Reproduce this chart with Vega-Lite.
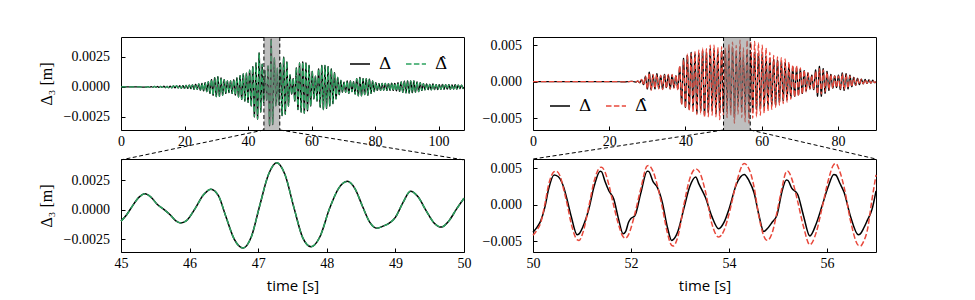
{
"$schema": "https://vega.github.io/schema/vega-lite/v6.json",
"background": "white",
"padding": {"left": 37, "top": 36, "right": 5, "bottom": 5},
"bounds": "flush",
"columns": 2,
"spacing": {"row": 29, "column": 69},
"resolve": {"scale": {"color": "independent", "strokeDash": "independent"}, "legend": {"color": "independent", "strokeDash": "independent"}},
"config": {
"view": {"stroke": "black", "strokeWidth": 1},
"axis": {"domain": false, "grid": false, "tickSize": -4, "tickColor": "black", "tickWidth": 1, "labelFont": "Liberation Serif", "labelFontSize": 14, "labelColor": "black", "labelFlush": false, "titleColor": "black", "titleFontWeight": "normal"},
"axisX": {"labelPadding": 8, "titleFont": "Open Sans", "titleFontSize": 15, "titlePadding": 8, "titleFontWeight": "normal"},
"axisY": {"labelPadding": 15.5, "titleFont": "Liberation Serif", "titleFontSize": 16, "titlePadding": 9, "titleFontWeight": "normal"},
"legend": {"labelFont": "DejaVu Serif", "labelFontSize": 17, "labelColor": "black", "symbolSize": 400, "symbolStrokeWidth": 1.5, "labelOffset": 8, "columnPadding": 11, "padding": 0, "offset": 16, "direction": "horizontal", "title": null}
},
"datasets": {
"L": [
{"t":0,"v":0},{"t":4,"v":0.00001},{"t":8,"v":-0.00002},{"t":8.5,"v":0.00002},{"t":9,"v":-0.00003},{"t":9.5,"v":0.00003},{"t":10,"v":-0.00003},{"t":10.5,"v":0.00004},{"t":11,"v":-0.00004},{"t":11.5,"v":0.00004},{"t":12,"v":-0.00005},{"t":12.5,"v":0.00005},{"t":13,"v":-0.00005},{"t":13.5,"v":0.00006},{"t":14,"v":-0.00006},{"t":14.5,"v":0.00005},{"t":15,"v":-0.00007},{"t":15.5,"v":0.00007},{"t":16,"v":-0.00008},{"t":16.5,"v":0.00009},{"t":17,"v":-0.00008},{"t":17.5,"v":0.0001},{"t":18,"v":-0.00009},{"t":18.5,"v":0.0001},{"t":19,"v":-0.00011},{"t":19.5,"v":0.00012},{"t":20,"v":-0.00012},{"t":20.5,"v":0.00014},{"t":21,"v":-0.00013},{"t":21.5,"v":0.00016},{"t":22,"v":-0.00015},{"t":22.5,"v":0.00018},{"t":23,"v":-0.0002},{"t":23.5,"v":0.00022},{"t":24,"v":-0.0002},{"t":24.5,"v":0.00025},{"t":25,"v":-0.00028},{"t":25.5,"v":0.0003},{"t":26,"v":-0.00033},{"t":26.5,"v":0.00036},{"t":27,"v":-0.0004},{"t":27.5,"v":0.00045},{"t":28,"v":-0.00055},{"t":28.5,"v":0.00062},{"t":29,"v":-0.0007},{"t":29.5,"v":0.00078},{"t":30,"v":-0.00082},{"t":30.5,"v":0.00086},{"t":31,"v":-0.0008},{"t":31.5,"v":0.00075},{"t":32,"v":-0.0007},{"t":32.5,"v":0.00062},{"t":33,"v":-0.00055},{"t":33.5,"v":0.0005},{"t":34,"v":-0.00048},{"t":34.5,"v":0.0005},{"t":35,"v":-0.00055},{"t":35.5,"v":0.0006},{"t":36,"v":-0.00068},{"t":36.5,"v":0.00075},{"t":37,"v":-0.00085},{"t":37.5,"v":0.00095},{"t":38,"v":-0.00105},{"t":38.5,"v":0.0011},{"t":39,"v":-0.0012},{"t":39.5,"v":0.00115},{"t":40,"v":-0.0013},{"t":40.5,"v":0.0014},{"t":41,"v":-0.0016},{"t":41.5,"v":0.0017},{"t":42,"v":-0.0025},{"t":42.5,"v":0.002},{"t":43,"v":-0.0027},{"t":43.5,"v":0.00285},{"t":44,"v":-0.0021},{"t":44.45,"v":0.0019},{"t":44.9,"v":-0.0013},
{"t":45,"v":-0.00097},{"t":45.08,"v":-0.00045},{"t":45.17,"v":0.00035},{"t":45.26,"v":0.00105},{"t":45.35,"v":0.00136},{"t":45.44,"v":0.00105},{"t":45.53,"v":0.00045},{"t":45.62,"v":0.00005},{"t":45.72,"v":-0.00045},{"t":45.8,"v":-0.00095},{"t":45.87,"v":-0.00112},{"t":45.95,"v":-0.00095},{"t":46.08,"v":0.0001},{"t":46.2,"v":0.00125},{"t":46.31,"v":0.00175},{"t":46.42,"v":0.0012},{"t":46.53,"v":-0.0006},{"t":46.65,"v":-0.0025},{"t":46.78,"v":-0.00325},{"t":46.9,"v":-0.0023},{"t":47.02,"v":0.0003},{"t":47.15,"v":0.003},{"t":47.27,"v":0.004},{"t":47.39,"v":0.003},{"t":47.52,"v":0.0002},{"t":47.65,"v":-0.0024},{"t":47.77,"v":-0.00315},{"t":47.9,"v":-0.0023},{"t":48.04,"v":0.0001},{"t":48.17,"v":0.0018},{"t":48.3,"v":0.00242},{"t":48.41,"v":0.0018},{"t":48.52,"v":0.0003},{"t":48.63,"v":-0.0011},{"t":48.73,"v":-0.00158},{"t":48.82,"v":-0.0014},{"t":48.91,"v":-0.00115},{"t":49,"v":-0.00065},{"t":49.11,"v":0.0006},{"t":49.22,"v":0.00158},{"t":49.33,"v":0.0011},{"t":49.45,"v":-0.0001},{"t":49.56,"v":-0.0011},{"t":49.67,"v":-0.00148},{"t":49.78,"v":-0.00095},{"t":49.89,"v":0.00005},{"t":50,"v":0.00098},
{"t":50.22,"v":0.002},{"t":50.72,"v":-0.0024},{"t":51.22,"v":0.0025},{"t":51.72,"v":-0.0023},{"t":52.22,"v":0.0021},{"t":52.72,"v":-0.0016},{"t":53.22,"v":0.001},{"t":53.72,"v":-0.0006},{"t":54.22,"v":0.0007},{"t":54.72,"v":-0.0012},{"t":55.22,"v":0.0016},{"t":55.72,"v":-0.0019},{"t":56.22,"v":0.002},{"t":56.72,"v":-0.0021},{"t":57.22,"v":0.0021},{"t":57.72,"v":-0.0022},{"t":58.22,"v":0.002},{"t":58.72,"v":-0.002},{"t":59.22,"v":0.0018},{"t":59.72,"v":-0.0016},{"t":60.22,"v":0.0013},{"t":60.72,"v":-0.001},{"t":61.22,"v":0.0009},{"t":61.72,"v":-0.0012},{"t":62.22,"v":0.0015},{"t":62.72,"v":-0.0017},{"t":63.22,"v":0.0018},{"t":63.72,"v":-0.0019},{"t":64.22,"v":0.0018},{"t":64.72,"v":-0.0018},{"t":65.22,"v":0.0017},{"t":65.72,"v":-0.0016},{"t":66.22,"v":0.0015},{"t":66.72,"v":-0.0014},{"t":67.22,"v":0.0012},{"t":67.72,"v":-0.001},{"t":68.22,"v":0.0008},{"t":68.72,"v":-0.00065},{"t":69.22,"v":0.00055},{"t":69.72,"v":-0.00045},{"t":70.22,"v":0.0004},{"t":70.72,"v":-0.00045},{"t":71.22,"v":0.0005},{"t":71.72,"v":-0.00055},{"t":72.22,"v":0.0005},{"t":72.72,"v":-0.0004},{"t":73.22,"v":0.00045},{"t":73.72,"v":-0.0006},{"t":74.22,"v":0.0007},{"t":74.72,"v":-0.00075},{"t":75.22,"v":0.0008},{"t":75.72,"v":-0.00075},{"t":76.22,"v":0.0007},{"t":76.72,"v":-0.00065},{"t":77.22,"v":0.0007},{"t":77.72,"v":-0.0007},{"t":78.22,"v":0.00065},{"t":78.72,"v":-0.00055},{"t":79.22,"v":0.0005},{"t":79.72,"v":-0.0004},{"t":80.22,"v":0.00035},{"t":80.72,"v":-0.0003},{"t":81.22,"v":0.00028},{"t":81.72,"v":-0.0003},{"t":82.22,"v":0.0003},{"t":82.72,"v":-0.00028},{"t":83.22,"v":0.0003},{"t":83.72,"v":-0.0003},{"t":84.22,"v":0.00028},{"t":84.72,"v":-0.0003},{"t":85.22,"v":0.00032},{"t":85.72,"v":-0.0003},{"t":86.22,"v":0.0003},{"t":86.72,"v":-0.00033},{"t":87.22,"v":0.00035},{"t":87.72,"v":-0.00038},{"t":88.22,"v":0.00042},{"t":88.72,"v":-0.00045},{"t":89.22,"v":0.00048},{"t":89.72,"v":-0.0005},{"t":90.22,"v":0.0005},{"t":90.72,"v":-0.00052},{"t":91.22,"v":0.0005},{"t":91.72,"v":-0.00048},{"t":92.22,"v":0.0005},{"t":92.72,"v":-0.00045},{"t":93.22,"v":0.00042},{"t":93.72,"v":-0.0004},{"t":94.22,"v":0.00035},{"t":94.72,"v":-0.0003},{"t":95.22,"v":0.00028},{"t":95.72,"v":-0.00025},{"t":96.22,"v":0.00025},{"t":96.72,"v":-0.00022},{"t":97.22,"v":0.00022},{"t":97.72,"v":-0.00025},{"t":98.22,"v":0.00025},{"t":98.72,"v":-0.00022},{"t":99.22,"v":0.0002},{"t":99.72,"v":-0.00022},{"t":100.22,"v":0.0002},{"t":100.72,"v":-0.0002},{"t":101.22,"v":0.00022},{"t":101.72,"v":-0.0002},{"t":102.22,"v":0.0002},{"t":102.72,"v":-0.00018},{"t":103.22,"v":0.0002},{"t":103.72,"v":-0.0002},{"t":104.22,"v":0.00018},{"t":104.72,"v":-0.00018},{"t":105.22,"v":0.0002},{"t":105.72,"v":-0.00018},{"t":106.22,"v":0.00016},{"t":106.72,"v":-0.00015},{"t":107.22,"v":0.00015},{"t":107.72,"v":-0.00014},{"t":108,"v":0}
],
"R": [
{"t":0,"a":0,"b":0},{"t":10,"a":0,"b":0},{"t":20,"a":0.00001,"b":0.00001},{"t":24,"a":-0.00002,"b":-0.00002},{"t":26,"a":0.00003,"b":0.00003},{"t":27,"a":-0.00005,"b":-0.00005},{"t":27.5,"a":0.00008,"b":0.0001},{"t":28,"a":-0.00015,"b":-0.00015},{"t":28.5,"a":0.00025,"b":0.0003},{"t":29,"a":-0.0004,"b":-0.00045},{"t":29.5,"a":0.0007,"b":0.0008},{"t":30,"a":-0.001,"b":-0.001},{"t":30.5,"a":0.0013,"b":0.0012},{"t":31,"a":-0.0011,"b":-0.0012},{"t":31.5,"a":0.0009,"b":0.001},{"t":32,"a":-0.001,"b":-0.0009},{"t":32.5,"a":0.0011,"b":0.001},{"t":33,"a":-0.0009,"b":-0.001},{"t":33.5,"a":0.0008,"b":0.0009},{"t":34,"a":-0.001,"b":-0.0011},{"t":34.5,"a":0.001,"b":0.0009},{"t":35,"a":-0.0008,"b":-0.0009},{"t":35.5,"a":0.0009,"b":0.001},{"t":36,"a":-0.001,"b":-0.001},{"t":36.5,"a":0.0009,"b":0.001},{"t":37,"a":-0.0008,"b":-0.0009},{"t":37.5,"a":0.0008,"b":0.0009},{"t":38,"a":-0.001,"b":-0.0012},{"t":38.5,"a":0.002,"b":0.0022},{"t":39,"a":-0.003,"b":-0.0032},{"t":39.5,"a":0.0032,"b":0.003},{"t":40,"a":-0.0035,"b":-0.0036},{"t":40.5,"a":0.0036,"b":0.0038},{"t":41,"a":-0.0038,"b":-0.004},{"t":41.5,"a":0.004,"b":0.0039},{"t":42,"a":-0.0036,"b":-0.0042},{"t":42.5,"a":0.0038,"b":0.0041},{"t":43,"a":-0.0043,"b":-0.0045},{"t":43.5,"a":0.0039,"b":0.0043},{"t":44,"a":-0.004,"b":-0.0044},{"t":44.5,"a":0.0042,"b":0.0046},{"t":45,"a":-0.0046,"b":-0.0049},{"t":45.5,"a":0.004,"b":0.0045},{"t":46,"a":-0.0042,"b":-0.0048},{"t":46.5,"a":0.0045,"b":0.005},{"t":47,"a":-0.004,"b":-0.0046},{"t":47.5,"a":0.0043,"b":0.005},{"t":48,"a":-0.0044,"b":-0.0048},{"t":48.5,"a":0.0041,"b":0.0047},{"t":49,"a":-0.0043,"b":-0.0052},{"t":49.5,"a":0.0042,"b":0.0048},{"t":49.93,"a":-0.0039,"b":-0.0046},
{"t":50,"a":-0.00377,"b":-0.0042},{"t":50.08,"a":-0.0031,"b":-0.0035},{"t":50.16,"a":-0.00218,"b":-0.0024},{"t":50.24,"a":-0.0004,"b":0},{"t":50.32,"a":0.0022,"b":0.0028},{"t":50.43,"a":0.00409,"b":0.00455},{"t":50.47,"a":0.00405,"b":0.00463},{"t":50.55,"a":0.0036,"b":0.004},{"t":50.63,"a":0.00236,"b":0.002},{"t":50.7,"a":0.0006,"b":0},{"t":50.78,"a":-0.0016,"b":-0.0026},{"t":50.9,"a":-0.00413,"b":-0.0048},{"t":50.94,"a":-0.004,"b":-0.0049},{"t":51.02,"a":-0.003,"b":-0.0038},{"t":51.14,"a":-0.00059,"b":-0.0002},{"t":51.25,"a":0.0026,"b":0.0033},{"t":51.37,"a":0.00463,"b":0.00515},{"t":51.4,"a":0.00455,"b":0.00518},{"t":51.47,"a":0.0032,"b":0.0045},{"t":51.55,"a":0.0019,"b":0.0027},{"t":51.65,"a":0.00077,"b":-0.0002},{"t":51.74,"a":-0.0018,"b":-0.0026},{"t":51.84,"a":-0.004,"b":-0.0044},{"t":51.89,"a":-0.0037,"b":-0.0046},{"t":51.95,"a":-0.0024,"b":-0.0041},{"t":51.99,"a":-0.00195,"b":-0.0034},{"t":52.08,"a":-0.0015,"b":-0.0012},{"t":52.2,"a":0.0016,"b":0.0022},{"t":52.33,"a":0.00463,"b":0.00535},{"t":52.36,"a":0.0046,"b":0.0054},{"t":52.45,"a":0.0032,"b":0.0046},{"t":52.54,"a":0.00236,"b":0.0026},{"t":52.64,"a":0.0003,"b":-0.0004},{"t":52.74,"a":-0.003,"b":-0.0038},{"t":52.83,"a":-0.0049,"b":-0.0056},{"t":52.86,"a":-0.0048,"b":-0.00568},{"t":52.96,"a":-0.0036,"b":-0.0043},{"t":53.08,"a":-0.0005,"b":0},{"t":53.2,"a":0.0025,"b":0.0036},{"t":53.32,"a":0.00381,"b":0.00495},{"t":53.39,"a":0.0028,"b":0.0046},{"t":53.52,"a":0.001,"b":0.0018},{"t":53.65,"a":-0.0016,"b":-0.0026},{"t":53.79,"a":-0.0033,"b":-0.00445},{"t":53.9,"a":-0.0024,"b":-0.0035},{"t":54,"a":-0.0006,"b":-0.0013},{"t":54.15,"a":0.0028,"b":0.003},{"t":54.31,"a":0.00418,"b":0.00568},{"t":54.41,"a":0.0033,"b":0.0049},{"t":54.51,"a":0.00168,"b":0.0025},{"t":54.61,"a":-0.0014,"b":-0.0016},{"t":54.71,"a":-0.00368,"b":-0.0043},{"t":54.78,"a":-0.0033,"b":-0.0049},{"t":54.88,"a":-0.0024,"b":-0.0039},{"t":54.98,"a":-0.0014,"b":-0.001},{"t":55.08,"a":0.0018,"b":0.0023},{"t":55.17,"a":0.0034,"b":0.00455},{"t":55.2,"a":0.00335,"b":0.00463},{"t":55.28,"a":0.0023,"b":0.0036},{"t":55.4,"a":0.00145,"b":0.0005},{"t":55.52,"a":-0.0015,"b":-0.003},{"t":55.65,"a":-0.0043,"b":-0.0055},{"t":55.78,"a":-0.0026,"b":-0.0038},{"t":55.9,"a":-0.00014,"b":-0.0004},{"t":56.02,"a":0.0024,"b":0.0032},{"t":56.14,"a":0.00418,"b":0.00555},{"t":56.18,"a":0.0041,"b":0.00568},{"t":56.26,"a":0.003,"b":0.0046},{"t":56.35,"a":0.00168,"b":0.0024},{"t":56.48,"a":-0.0016,"b":-0.0022},{"t":56.64,"a":-0.00413,"b":-0.0056},{"t":56.68,"a":-0.004,"b":-0.00568},{"t":56.75,"a":-0.0032,"b":-0.005},{"t":56.82,"a":-0.00218,"b":-0.0036},{"t":56.92,"a":-0.0006,"b":0.0008},{"t":57,"a":0.0019,"b":0.0041},
{"t":57.2,"a":0.004,"b":0.0054},{"t":57.65,"a":-0.0042,"b":-0.005},{"t":58.15,"a":0.004,"b":0.0055},{"t":58.65,"a":-0.0038,"b":-0.0048},{"t":59.15,"a":0.0039,"b":0.0053},{"t":59.65,"a":-0.0037,"b":-0.0046},{"t":60.15,"a":0.0038,"b":0.005},{"t":60.65,"a":-0.0035,"b":-0.0043},{"t":61.15,"a":0.0035,"b":0.0046},{"t":61.65,"a":-0.0033,"b":-0.004},{"t":62.15,"a":0.0032,"b":0.004},{"t":62.65,"a":-0.0031,"b":-0.0038},{"t":63.15,"a":0.003,"b":0.0036},{"t":63.65,"a":-0.0032,"b":-0.0035},{"t":64.15,"a":0.0029,"b":0.0034},{"t":64.65,"a":-0.0028,"b":-0.0032},{"t":65.15,"a":0.0027,"b":0.0033},{"t":65.65,"a":-0.0026,"b":-0.003},{"t":66.15,"a":0.0026,"b":0.0031},{"t":66.65,"a":-0.0025,"b":-0.0028},{"t":67.15,"a":0.0023,"b":0.0027},{"t":67.65,"a":-0.0022,"b":-0.0024},{"t":68.15,"a":0.002,"b":0.0023},{"t":68.65,"a":-0.002,"b":-0.0021},{"t":69.15,"a":0.0019,"b":0.0022},{"t":69.65,"a":-0.0018,"b":-0.002},{"t":70.15,"a":0.0017,"b":0.0019},{"t":70.65,"a":-0.0016,"b":-0.0017},{"t":71.15,"a":0.0015,"b":0.0016},{"t":71.65,"a":-0.0013,"b":-0.0014},{"t":72.15,"a":0.0012,"b":0.0012},{"t":72.65,"a":-0.001,"b":-0.001},{"t":73.15,"a":0.0009,"b":0.0009},{"t":73.65,"a":-0.0011,"b":-0.001},{"t":74.15,"a":0.0016,"b":0.0014},{"t":74.65,"a":-0.002,"b":-0.0017},{"t":75.15,"a":0.0021,"b":0.0018},{"t":75.65,"a":-0.002,"b":-0.0017},{"t":76.15,"a":0.0018,"b":0.0016},{"t":76.65,"a":-0.0016,"b":-0.0014},{"t":77.15,"a":0.0014,"b":0.0013},{"t":77.65,"a":-0.0012,"b":-0.0011},{"t":78.15,"a":0.001,"b":0.001},{"t":78.65,"a":-0.0009,"b":-0.0009},{"t":79.15,"a":0.0008,"b":0.0008},{"t":79.65,"a":-0.0008,"b":-0.0008},{"t":80.15,"a":0.0009,"b":0.0008},{"t":80.65,"a":-0.0011,"b":-0.001},{"t":81.15,"a":0.0012,"b":0.0011},{"t":81.65,"a":-0.0012,"b":-0.0011},{"t":82.15,"a":0.0011,"b":0.001},{"t":82.65,"a":-0.001,"b":-0.0009},{"t":83.15,"a":0.0009,"b":0.0008},{"t":83.65,"a":-0.0007,"b":-0.0007},{"t":84.15,"a":0.0006,"b":0.0006},{"t":84.65,"a":-0.0005,"b":-0.0005},{"t":85.15,"a":0.00045,"b":0.00045},{"t":85.65,"a":-0.0004,"b":-0.0004},{"t":86.15,"a":0.00035,"b":0.00035},{"t":86.65,"a":-0.0003,"b":-0.0003},{"t":87.15,"a":0.0003,"b":0.0003},{"t":87.65,"a":-0.00025,"b":-0.00025},{"t":88.15,"a":0.00025,"b":0.00025},{"t":88.65,"a":-0.0002,"b":-0.0002},{"t":89.15,"a":0.0002,"b":0.0002},{"t":89.65,"a":-0.00015,"b":-0.00015},{"t":90,"a":0,"b":0}
]
},
"concat": [
{
"width": 343, "height": 93,
"layer": [
{"data": {"name": "L"}, "mark": {"type": "line", "interpolate": "monotone", "strokeWidth": 1.2},
 "encoding": {
  "x": {"field": "t", "type": "quantitative", "title": null, "scale": {"domain": [0, 108], "nice": false, "zero": false}, "axis": {"values": [0, 20, 40, 60, 80, 100], "format": "d"}},
  "y": {"field": "v", "type": "quantitative", "title": "Δ₃ [m]", "scale": {"domain": [-0.0036, 0.00417], "nice": false, "zero": false}, "axis": {"values": [-0.0025, 0, 0.0025], "format": ".4f"}},
  "color": {"datum": "Δ", "type": "nominal", "scale": {"domain": ["Δ", "Δ̂"], "range": ["black", "#2ca25f"]}, "legend": {"orient": "top-right"}},
  "strokeDash": {"datum": "Δ", "type": "nominal", "scale": {"domain": ["Δ", "Δ̂"], "range": [[1, 0], [5.5, 2.4]]}, "legend": {"orient": "top-right"}}
 }},
{"data": {"name": "L"}, "mark": {"type": "line", "interpolate": "monotone", "strokeWidth": 1.2},
 "encoding": {
  "x": {"field": "t", "type": "quantitative", "title": null},
  "y": {"field": "v", "type": "quantitative", "title": "Δ₃ [m]"},
  "color": {"datum": "Δ̂", "type": "nominal"},
  "strokeDash": {"datum": "Δ̂", "type": "nominal"}
 }},
{"data": {"values": [{"a": 45, "b": 50}]}, "mark": {"type": "rect", "fill": "#808080", "fillOpacity": 0.5},
 "encoding": {"x": {"field": "a", "type": "quantitative", "title": null}, "x2": {"field": "b"}}},
{"data": {"values": [{"a": 45}, {"a": 50}]}, "mark": {"type": "rule", "color": "black", "strokeWidth": 1, "strokeDash": [4, 2.5]},
 "encoding": {"x": {"field": "a", "type": "quantitative", "title": null}}},
{"data": {"values": [{"x1": 45, "y1": -0.0036, "x2": 0, "y2": -0.0061}, {"x1": 50, "y1": -0.0036, "x2": 108, "y2": -0.0061}]},
 "mark": {"type": "rule", "color": "black", "strokeWidth": 1, "strokeDash": [4, 2.5]},
 "encoding": {"x": {"field": "x1", "type": "quantitative", "title": null}, "x2": {"field": "x2"}, "y": {"field": "y1", "type": "quantitative", "title": "Δ₃ [m]"}, "y2": {"field": "y2"}}}
]
},
{
"width": 343, "height": 93,
"layer": [
{"data": {"name": "R"}, "mark": {"type": "line", "interpolate": "monotone", "strokeWidth": 1.2},
 "encoding": {
  "x": {"field": "t", "type": "quantitative", "title": null, "scale": {"domain": [0, 90], "nice": false, "zero": false}, "axis": {"values": [0, 20, 40, 60, 80], "format": "d"}},
  "y": {"field": "a", "type": "quantitative", "title": null, "scale": {"domain": [-0.0066, 0.0061], "nice": false, "zero": false}, "axis": {"values": [-0.005, 0, 0.005], "format": ".3f"}},
  "color": {"datum": "Δ", "type": "nominal", "scale": {"domain": ["Δ", "Δ̂"], "range": ["black", "#e8483b"]}, "legend": {"orient": "bottom-left"}},
  "strokeDash": {"datum": "Δ", "type": "nominal", "scale": {"domain": ["Δ", "Δ̂"], "range": [[1, 0], [5.5, 2.4]]}, "legend": {"orient": "bottom-left"}}
 }},
{"data": {"name": "R"}, "mark": {"type": "line", "interpolate": "monotone", "strokeWidth": 1.2},
 "encoding": {
  "x": {"field": "t", "type": "quantitative", "title": null},
  "y": {"field": "b", "type": "quantitative", "title": null},
  "color": {"datum": "Δ̂", "type": "nominal"},
  "strokeDash": {"datum": "Δ̂", "type": "nominal"}
 }},
{"data": {"values": [{"a": 50, "b": 57}]}, "mark": {"type": "rect", "fill": "#808080", "fillOpacity": 0.5},
 "encoding": {"x": {"field": "a", "type": "quantitative", "title": null}, "x2": {"field": "b"}}},
{"data": {"values": [{"a": 50}, {"a": 57}]}, "mark": {"type": "rule", "color": "black", "strokeWidth": 1, "strokeDash": [4, 2.5]},
 "encoding": {"x": {"field": "a", "type": "quantitative", "title": null}}},
{"data": {"values": [{"x1": 50, "y1": -0.0066, "x2": 0, "y2": -0.01056}, {"x1": 57, "y1": -0.0066, "x2": 90, "y2": -0.01056}]},
 "mark": {"type": "rule", "color": "black", "strokeWidth": 1, "strokeDash": [4, 2.5]},
 "encoding": {"x": {"field": "x1", "type": "quantitative", "title": null}, "x2": {"field": "x2"}, "y": {"field": "y1", "type": "quantitative", "title": null}, "y2": {"field": "y2"}}}
]
},
{
"width": 343, "height": 93,
"data": {"name": "L"},
"transform": [{"filter": {"field": "t", "range": [45, 50]}}],
"layer": [
{"mark": {"type": "line", "interpolate": "monotone", "strokeWidth": 1.5, "color": "black"},
 "encoding": {
  "x": {"field": "t", "type": "quantitative", "title": "time [s]", "scale": {"domain": [45, 50], "nice": false, "zero": false}, "axis": {"values": [45, 46, 47, 48, 49, 50], "format": "d"}},
  "y": {"field": "v", "type": "quantitative", "title": "Δ₃ [m]", "scale": {"domain": [-0.0036, 0.00432], "nice": false, "zero": false}, "axis": {"values": [-0.0025, 0, 0.0025], "format": ".4f"}}
 }},
{"mark": {"type": "line", "interpolate": "monotone", "strokeWidth": 1.5, "color": "#2ca25f", "strokeDash": [5.5, 2.4]},
 "encoding": {
  "x": {"field": "t", "type": "quantitative", "title": "time [s]"},
  "y": {"field": "v", "type": "quantitative", "title": "Δ₃ [m]"}
 }}
]
},
{
"width": 343, "height": 93,
"data": {"name": "R"},
"transform": [{"filter": {"field": "t", "range": [50, 57]}}],
"layer": [
{"mark": {"type": "line", "interpolate": "monotone", "strokeWidth": 1.5, "color": "black"},
 "encoding": {
  "x": {"field": "t", "type": "quantitative", "title": "time [s]", "scale": {"domain": [50, 57], "nice": false, "zero": false}, "axis": {"values": [50, 52, 54, 56], "format": "d"}},
  "y": {"field": "a", "type": "quantitative", "title": null, "scale": {"domain": [-0.0065, 0.0063], "nice": false, "zero": false}, "axis": {"values": [-0.005, 0, 0.005], "format": ".3f"}}
 }},
{"mark": {"type": "line", "interpolate": "monotone", "strokeWidth": 1.5, "color": "#e8483b", "strokeDash": [5.5, 2.4]},
 "encoding": {
  "x": {"field": "t", "type": "quantitative", "title": "time [s]"},
  "y": {"field": "b", "type": "quantitative", "title": null}
 }}
]
}
]
}
